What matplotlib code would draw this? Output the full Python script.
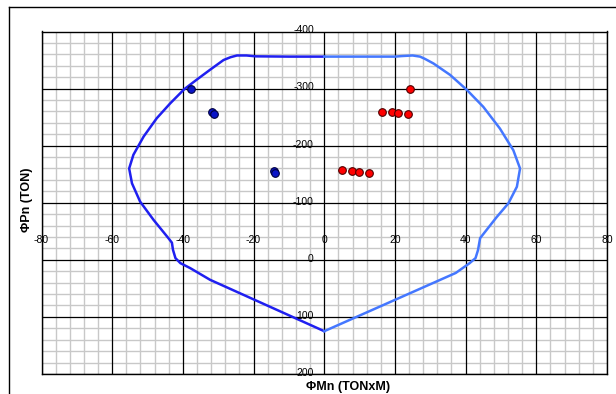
import matplotlib
matplotlib.use('Agg')
import matplotlib.pyplot as plt
from matplotlib.lines import Line2D
from matplotlib.ticker import MultipleLocator

plt.rcParams['font.family'] = ['Liberation Sans', 'DejaVu Sans']

# Interaction diagram, negative-moment side (from the bottom point up to the top)
left_mn = [0, -32.3, -37.9, -40.7, -42.1, -42.8, -43.1, -44.1, -48.3, -52.1, -54.4,
           -55.2, -54.0, -51.1, -47.4, -43.6, -39.6, -36.0, -32.3, -28.5, -26.5,
           -24.7, -22.0, -19.4, -10.0, 0]
left_pn = [125, 35, 14.6, 5.8, -3, -17.5, -30, -38, -70, -102, -134,
           -160, -184, -216, -248, -274, -299, -316, -333, -350, -355,
           -358, -358, -356.5, -356, -356]

# Positive-moment side
right_mn = [0, 37.2, 41.1, 42.8, 43.5, 44.1, 48.8, 52.1, 54.5, 55.4, 53.5, 49.7,
            45.0, 40.3, 35.6, 30.9, 28.5, 27.1, 25.0, 22.0, 20.0, 0]
right_pn = [125, 23, 6, -3, -17, -38, -75, -99, -128, -160, -192, -230,
            -268, -298, -324, -344, -352, -356, -358, -357, -356, -356]

# Load points
blue_mn = [-37.8, -31.7, -31.2, -14.2, -13.9]
blue_pn = [-299, -258.5, -256, -156, -152]
red_mn = [24.3, 16.4, 19.3, 20.8, 23.7, 5.0, 7.9, 9.7, 12.6]
red_pn = [-299.5, -259, -259, -257, -255.6, -157, -155, -153.5, -151.8]

x_ticks = [-80, -60, -40, -20, 0, 20, 40, 60, 80]
y_ticks = [-400, -300, -200, -100, 0, 100, 200]

fig = plt.figure(figsize=(6.16, 3.94), dpi=100)
ax = fig.add_axes([41.5 / 616, 1 - 374 / 394, (607 - 41.5) / 616, (374 - 31.5) / 394])

ax.set_xlim(-80, 80)
ax.set_ylim(200, -400)
ax.xaxis.set_minor_locator(MultipleLocator(4))
ax.yaxis.set_minor_locator(MultipleLocator(20))
ax.set_xticks(x_ticks)
ax.set_yticks(y_ticks)
ax.grid(True, which='minor', color='#c8c8c8', linewidth=1.0, zorder=0)
ax.set_axisbelow(True)
ax.tick_params(which='both', length=0, labelleft=False, labelbottom=False)
for sp in ax.spines.values():
    sp.set_color('black')
    sp.set_linewidth(1.0)

# major grid drawn above the minor one so it stays solid black
for x in x_ticks:
    ax.axvline(x, color='black', linewidth=0.9, zorder=1)
for y in y_ticks:
    ax.axhline(y, color='black', linewidth=0.9, zorder=1)

ax.plot(left_mn, left_pn, color='#1f1ff0', linewidth=1.8, zorder=3,
        solid_joinstyle='round')
ax.plot(right_mn, right_pn, color='#4477ff', linewidth=1.8, zorder=3,
        solid_joinstyle='round')

ax.plot(blue_mn, blue_pn, 'o', color='#0a14c8', markeredgecolor='#000040',
        markersize=5.5, markeredgewidth=0.8, zorder=4)
ax.plot(red_mn, red_pn, 'o', color='#ff0000', markeredgecolor='#500000',
        markersize=5.5, markeredgewidth=0.8, zorder=4)

# tick labels sit on the axes crossing at the origin
for x in x_ticks:
    ax.annotate(f'{x}', xy=(x, 0), xytext=(0, 14), textcoords='offset points',
                ha='center', va='center', fontsize=7.5, annotation_clip=False,
                zorder=5)
for y in y_ticks:
    ax.annotate(f'{y}', xy=(0, y), xytext=(-7.5, 0.8), textcoords='offset points',
                ha='right', va='center', fontsize=7.5, annotation_clip=False,
                zorder=5)

fig.text(348 / 616, 1 - 387 / 394, 'ΦMn (TONxM)', ha='center', va='center',
         fontsize=9, fontweight='bold')
fig.text(27 / 616, 1 - 200 / 394, 'ΦPn (TON)', ha='center', va='center',
         rotation=90, fontsize=9, fontweight='bold')

# outer chart frame (left and top edges visible)
fig.add_artist(Line2D([8.6 / 616, 8.6 / 616], [0, 1 - 7.3 / 394],
                      transform=fig.transFigure, color='black', linewidth=1.0))
fig.add_artist(Line2D([8.6 / 616, 1], [1 - 7.3 / 394, 1 - 7.3 / 394],
                      transform=fig.transFigure, color='black', linewidth=1.0))

fig.savefig('out.png', dpi=100)
